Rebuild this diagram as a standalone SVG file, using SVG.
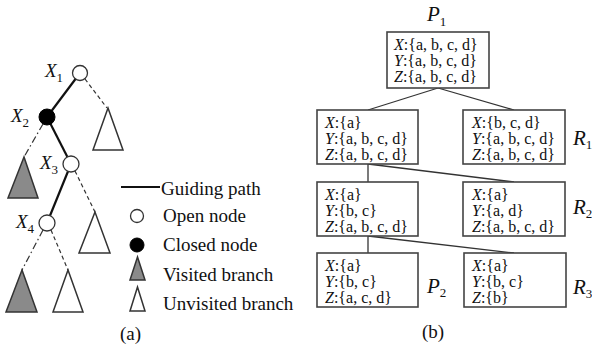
<svg xmlns="http://www.w3.org/2000/svg" width="592" height="347" viewBox="0 0 592 347">
<style>
text{font-family:"Liberation Serif","Times New Roman",serif;fill:#111}
.lbl{font-size:19px}
.it{font-style:italic}
.sub{font-size:13px}
.bt{font-size:16px}
.box{fill:#fff;stroke:#444;stroke-width:1.6}
.open{fill:#fff;stroke:#333;stroke-width:1.3}
.closed{fill:#000;stroke:#000;stroke-width:1}
.tri-v{fill:#8a8a8a;stroke:#333;stroke-width:1.5}
.tri-u{fill:#fff;stroke:#333;stroke-width:1.5}
.guide{stroke:#111;stroke-width:2.2;fill:none}
.dash{stroke:#333;stroke-width:1.2;stroke-dasharray:4 3;fill:none}
.dashdot{stroke:#333;stroke-width:1.2;stroke-dasharray:7 3 1.5 3;fill:none}
.conn{stroke:#333;stroke-width:1.3;fill:none}
</style>
<g id="connectors">
  <line class="guide" x1="80" y1="73" x2="47" y2="117"/>
  <line class="guide" x1="47" y1="117" x2="71" y2="164"/>
  <line class="guide" x1="71" y1="164" x2="47" y2="223"/>
  <line class="dash" x1="85" y1="79" x2="107" y2="108"/>
  <line class="dashdot" x1="43" y1="124" x2="24" y2="157"/>
  <line class="dash" x1="75" y1="171" x2="95" y2="212"/>
  <line class="dashdot" x1="43" y1="230" x2="22" y2="270"/>
  <line class="dash" x1="51" y1="230" x2="68" y2="270"/>
  <line class="conn" x1="438" y1="88" x2="368" y2="110"/>
  <line class="conn" x1="438" y1="88" x2="514" y2="110"/>
  <line class="conn" x1="368" y1="164" x2="368" y2="182"/>
  <line class="conn" x1="368" y1="164" x2="514" y2="182"/>
  <line class="conn" x1="368" y1="236" x2="368" y2="253"/>
  <line class="conn" x1="368" y1="236" x2="514" y2="253"/>
</g>
<g id="tree-x1"><circle class="open" cx="80" cy="73" r="7.5"/><text class="lbl" x="45" y="77"><tspan class="it">X</tspan><tspan class="sub" dy="5">1</tspan></text></g>
<g id="tree-x2"><circle class="closed" cx="47" cy="117" r="8"/><text class="lbl" x="11" y="122"><tspan class="it">X</tspan><tspan class="sub" dy="5">2</tspan></text></g>
<g id="tree-x3"><circle class="open" cx="71" cy="164" r="8"/><text class="lbl" x="40" y="169"><tspan class="it">X</tspan><tspan class="sub" dy="5">3</tspan></text></g>
<g id="tree-x4"><circle class="open" cx="47" cy="223" r="8"/><text class="lbl" x="16" y="228"><tspan class="it">X</tspan><tspan class="sub" dy="5">4</tspan></text></g>
<g id="branch-1"><polygon class="tri-u" points="108,108 93,150 123,150"/></g>
<g id="branch-2"><polygon class="tri-v" points="24,157 8,198 38,198"/></g>
<g id="branch-3"><polygon class="tri-u" points="95,212 79,253 110,253"/></g>
<g id="branch-4"><polygon class="tri-v" points="22,270 6,312 37,312"/></g>
<g id="branch-5"><polygon class="tri-u" points="68,270 53,312 83,312"/></g>
<g id="legend">
  <line class="guide" x1="121" y1="187" x2="160" y2="187"/>
  <text class="lbl" x="161" y="195">Guiding path</text>
  <circle class="open" cx="137" cy="216" r="6.5"/>
  <text class="lbl" x="163" y="222">Open node</text>
  <circle class="closed" cx="137" cy="245" r="7"/>
  <text class="lbl" x="163" y="251">Closed node</text>
  <polygon class="tri-v" points="137.5,257 130,280 145,280"/>
  <text class="lbl" x="163" y="281">Visited branch</text>
  <polygon class="tri-u" points="137.5,287 130,311 145,311"/>
  <text class="lbl" x="163" y="310">Unvisited branch</text>
  <text class="lbl" x="120" y="340">(a)</text>
</g>
<g id="P1">
  <text class="lbl" x="427" y="21" font-size="21"><tspan class="it" font-size="21">P</tspan><tspan class="sub" dy="5">1</tspan></text>
  <rect class="box" x="387" y="32" width="102" height="56"/>
  <text class="bt" x="394" y="50"><tspan class="it">X</tspan>:{a, b, c, d}</text>
  <text class="bt" x="394" y="66"><tspan class="it">Y</tspan>:{a, b, c, d}</text>
  <text class="bt" x="394" y="82"><tspan class="it">Z</tspan>:{a, b, c, d}</text>
</g>
<g id="node-2l">
  <rect class="box" x="317" y="110" width="101" height="54"/>
  <text class="bt" x="325" y="128"><tspan class="it">X</tspan>:{a}</text>
  <text class="bt" x="325" y="144"><tspan class="it">Y</tspan>:{a, b, c, d}</text>
  <text class="bt" x="325" y="160"><tspan class="it">Z</tspan>:{a, b, c, d}</text>
</g>
<g id="R1">
  <rect class="box" x="463" y="110" width="102" height="54"/>
  <text class="bt" x="472" y="128"><tspan class="it">X</tspan>:{b, c, d}</text>
  <text class="bt" x="472" y="144"><tspan class="it">Y</tspan>:{a, b, c, d}</text>
  <text class="bt" x="472" y="160"><tspan class="it">Z</tspan>:{a, b, c, d}</text>
  <text class="lbl" x="573" y="145" font-size="21"><tspan class="it" font-size="21">R</tspan><tspan class="sub" dy="4">1</tspan></text>
</g>
<g id="node-3l">
  <rect class="box" x="317" y="182" width="101" height="54"/>
  <text class="bt" x="325" y="200"><tspan class="it">X</tspan>:{a}</text>
  <text class="bt" x="325" y="216"><tspan class="it">Y</tspan>:{b, c}</text>
  <text class="bt" x="325" y="232"><tspan class="it">Z</tspan>:{a, b, c, d}</text>
</g>
<g id="R2">
  <rect class="box" x="463" y="182" width="102" height="54"/>
  <text class="bt" x="472" y="200"><tspan class="it">X</tspan>:{a}</text>
  <text class="bt" x="472" y="216"><tspan class="it">Y</tspan>:{a, d}</text>
  <text class="bt" x="472" y="232"><tspan class="it">Z</tspan>:{a, b, c, d}</text>
  <text class="lbl" x="573" y="214" font-size="21"><tspan class="it" font-size="21">R</tspan><tspan class="sub" dy="4">2</tspan></text>
</g>
<g id="P2">
  <rect class="box" x="317" y="253" width="101" height="54"/>
  <text class="bt" x="325" y="271"><tspan class="it">X</tspan>:{a}</text>
  <text class="bt" x="325" y="287"><tspan class="it">Y</tspan>:{b, c}</text>
  <text class="bt" x="325" y="303"><tspan class="it">Z</tspan>:{a, c, d}</text>
  <text class="lbl" x="427" y="293" font-size="21"><tspan class="it" font-size="21">P</tspan><tspan class="sub" dy="4">2</tspan></text>
</g>
<g id="R3">
  <rect class="box" x="464" y="253" width="102" height="54"/>
  <text class="bt" x="472" y="271"><tspan class="it">X</tspan>:{a}</text>
  <text class="bt" x="472" y="287"><tspan class="it">Y</tspan>:{b, c}</text>
  <text class="bt" x="472" y="303"><tspan class="it">Z</tspan>:{b}</text>
  <text class="lbl" x="573" y="294" font-size="21"><tspan class="it" font-size="21">R</tspan><tspan class="sub" dy="4">3</tspan></text>
</g>
<text class="lbl" x="422" y="338">(b)</text>
</svg>
